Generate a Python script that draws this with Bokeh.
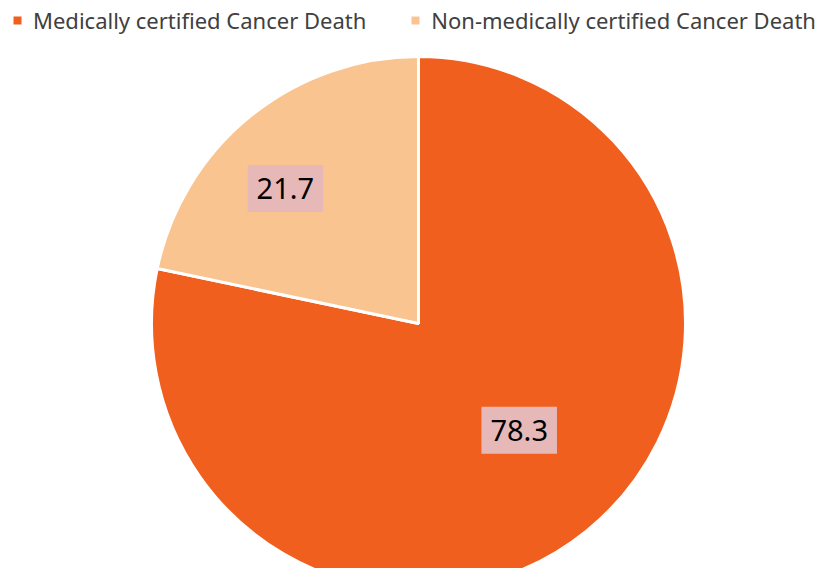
import math
from bokeh.plotting import figure
from bokeh.models import Range1d, Label, Legend, LegendItem, ColumnDataSource
from bokeh.embed import file_html
from bokeh.resources import INLINE

categories = ["Medically certified Cancer Death", "Non-medically certified Cancer Death"]
values = [78.3, 21.7]
colors = ["#F15F1E", "#F9C490"]

W, H = 823, 568
p = figure(width=W, height=H, output_backend="svg", toolbar_location=None,
           x_range=Range1d(0, W), y_range=Range1d(0, H), min_border=0)
p.axis.visible = False
p.grid.visible = False
p.outline_line_color = None
p.background_fill_color = "white"
p.border_fill_color = "white"

cx, cy, r = 418, 245, 267
total = sum(values)
starts, ends = [], []
cum = 0.0
for v in values:
    starts.append(math.radians(90 - cum / total * 360))
    cum += v
    ends.append(math.radians(90 - cum / total * 360))

src = ColumnDataSource(dict(start=starts, end=ends, color=colors, cat=categories))
p.wedge(x=cx, y=cy, radius=r, start_angle="start", end_angle="end", direction="clock",
        fill_color="color", line_color="white", line_width=3, source=src)

# legend via off-screen dummy renderers
items = []
for cat, col in zip(categories, colors):
    rr = p.quad(left=[-1010], right=[-1000], bottom=[-1010], top=[-1000],
                fill_color=col, line_color=None)
    items.append(LegendItem(label=cat, renderers=[rr]))
legend = Legend(items=items, orientation="horizontal", location=(12, H - 35),
                border_line_color=None, background_fill_alpha=0,
                label_text_font="Noto Sans", label_text_font_size="22px",
                label_text_color="#404040", glyph_width=10, glyph_height=10,
                label_standoff=11, spacing=44, padding=0, margin=0)
p.add_layout(legend, "center")

# data labels (angle in degrees, fraction of radius)
label_pos = [(313.3, 0.55), (134.6, 0.71)]
for v, (ang, f) in zip(values, label_pos):
    lx = cx + f * r * math.cos(math.radians(ang))
    ly = cy + f * r * math.sin(math.radians(ang))
    p.add_layout(Label(x=lx, y=ly, text=f"{v:.1f}", text_align="center", text_baseline="middle",
                       text_font="Noto Sans", text_font_size="29px", text_color="black",
                       background_fill_color="#E6B8B7",
                       padding=dict(left=9, right=9, top=13, bottom=13)))

open("out.html", "w").write(file_html(p, INLINE))
